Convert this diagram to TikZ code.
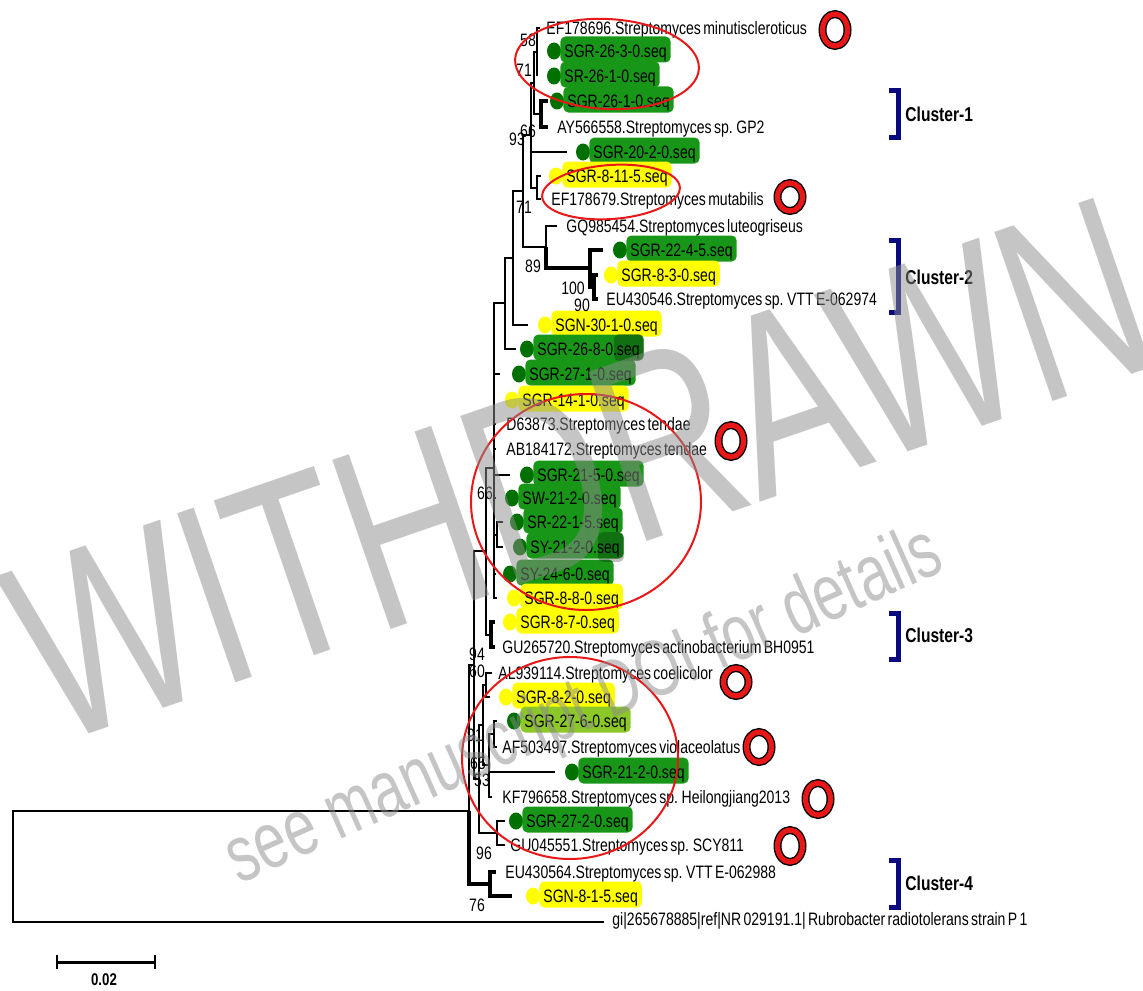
\documentclass[tikz,border=0pt]{standalone}
\usepackage{fontspec}
\setmainfont[FakeStretch=0.78,WordSpace=0.6]{Liberation Sans}
\newfontfamily\wmfont[FakeStretch=0.72]{Liberation Sans}
\usetikzlibrary{positioning,shapes.geometric}
\definecolor{gbox}{RGB}{24,150,24}
\definecolor{gdot}{RGB}{0,112,0}
\definecolor{ybox}{RGB}{255,255,0}
\definecolor{lbox}{RGB}{140,200,40}
\definecolor{cnavy}{RGB}{10,10,128}
\definecolor{cred}{RGB}{232,24,24}
\tikzset{
  br/.style={line width=0.65pt, black},
  thk/.style={line width=2pt, black},
  leaflab/.style={anchor=west, inner sep=0pt, text height=6.5pt, text depth=0pt, font=\fontsize{9}{9}\selectfont},
  seqlab/.style={fill=#1, anchor=west, rounded corners=2.5pt, inner xsep=2pt, inner ysep=0pt,
                 minimum height=13pt, text height=7.9pt, text depth=0pt, font=\fontsize{9}{9}\selectfont},
  sdot/.style={ellipse, fill=#1, inner sep=0pt, minimum width=7pt, minimum height=8.5pt},
  boot/.style={inner sep=0pt, font=\fontsize{9}{9}\selectfont},
  clbr/.style={draw=cnavy, line width=2.5pt},
  cllab/.style={anchor=west, inner sep=0pt, text height=7.2pt, text depth=0pt, font=\bfseries\fontsize{10}{10}\selectfont},
  hilite/.style={draw=cred, line width=1pt},
  ringout/.style={draw=black, line width=4pt},
  ringin/.style={draw=cred, line width=2.6pt},
  wm/.style={text=black!45, text opacity=0.5, inner sep=0pt},
}

\begin{document}
\begin{tikzpicture}[x=0.5pt, y=-0.5pt]
\useasboundingbox (0,0) rectangle (1143,990);

% internal nodes of the tree
\foreach \n/\x/\yy in {nA/537/52, nB/541/114, nC/534/83, nE/537/188, nD/531/135,
  nJ/594/287, nI/590/268, nH/546/247, nF/523/191, nK/513/258, nL/505/303, nM/494/338,
  nN/497/535, nZ/494/468, nP/491/635, nX/486/551, nV/486/685, nU1/494/734, nU/489/765,
  nW/483/725, nS/497/833, nT/479/779, nY/474/665, nR/490/884, nIn/469/811, root/13/866}
  \coordinate (\n) at (\x,\yy);

% reference strains
\foreach \n/\yy/\tip/\tx/\txt in {
  1/28/540/546/EF178696.Streptomyces minutiscleroticus,
  5/127/548/557/AY566558.Streptomyces sp. GP2,
  8/199/541/551/EF178679.Streptomyces mutabilis,
  9/226/557/566/GQ985454.Streptomyces luteogriseus,
  12/299/598/606/EU430546.Streptomyces sp. VTT E-062974,
  17/424/496/506/D63873.Streptomyces tendae,
  18/449/496/506/AB184172.Streptomyces tendae,
  26/647/495/502/GU265720.Streptomyces actinobacterium BH0951,
  27/673/492/498/AL939114.Streptomyces coelicolor,
  30/747/497/502/AF503497.Streptomyces violaceolatus,
  32/797/492/502/KF796658.Streptomyces sp. Heilongjiang2013,
  34/845/505/510/GU045551.Streptomyces sp. SCY811,
  35/872/496/505/EU430564.Streptomyces sp. VTT E-062988} {
  \coordinate (L\n) at (\tip,\yy);
  \node[leaflab] (t\n) at (\tx,\yy) {\txt};
}
\coordinate (L37) at (604,922);
\node[leaflab] (t37) at (612,919) {gi|265678885|ref|NR 029191.1| Rubrobacter radiotolerans strain P 1};

% isolates: dot + highlighted name
\foreach \n/\yy/\tip/\dx/\bc/\dc/\txt in {
  2/51/537/554/gbox/gdot/SGR-26-3-0.seq, 3/76/537/554/gbox/gdot/SR-26-1-0.seq,
  4/101/548/557/gbox/gdot/SGR-26-1-0.seq, 6/152/567/583/gbox/gdot/SGR-20-2-0.seq,
  7/176/541/556/ybox/ybox/SGR-8-11-5.seq, 10/250/603/620/gbox/gdot/SGR-22-4-5.seq,
  11/275/598/611/ybox/ybox/SGR-8-3-0.seq, 13/325/528/545/ybox/ybox/SGN-30-1-0.seq,
  14/349/516/527/gbox/gdot/SGR-26-8-0.seq, 15/374/500/519/gbox/gdot/SGR-27-1-0.seq,
  16/400/494/512/ybox/ybox/SGR-14-1-0.seq, 19/475/510/527/gbox/gdot/SGR-21-5-0.seq,
  20/498/496/512/gbox/gdot/SW-21-2-0.seq, 21/522/503/517/gbox/gdot/SR-22-1-5.seq,
  22/547/503/520/gbox/gdot/SY-21-2-0.seq, 23/574/496/510/gbox/gdot/SY-24-6-0.seq,
  24/598/497/514/ybox/ybox/SGR-8-8-0.seq, 25/622/495/510/ybox/ybox/SGR-8-7-0.seq,
  28/697/490/506/ybox/ybox/SGR-8-2-0.seq, 29/721/497/514/lbox/gdot/SGR-27-6-0.seq,
  31/772/555/572/gbox/gdot/SGR-21-2-0.seq, 33/821/505/516/gbox/gdot/SGR-27-2-0.seq,
  36/896/512/533/ybox/ybox/SGN-8-1-5.seq} {
  \coordinate (L\n) at (\tip,\yy);
  \node[sdot=\dc] (d\n) at (\dx,\yy) {};
  \node[seqlab=\bc] (t\n) at (\dx+6,\yy-1.5) {\txt};
}
\fill[black, opacity=0.25, rounded corners=2.5pt] ([xshift=-15pt]t14.north east) rectangle (t14.south east);
\fill[black, opacity=0.25, rounded corners=2.5pt] ([xshift=-13pt]t22.north east) rectangle ([yshift=-1.5pt]t22.south east);

% branches
\foreach \p/\c in {nA/L1, nA/L2, nA/L3, nC/nA, nC/nB, nE/L7, nE/L8, nD/nC, nD/L6, nD/nE,
  nH/L9, nF/nD, nF/nH, nK/nF, nK/L13, nL/nK, nL/L14, nM/nL, nM/L15,
  nN/L21, nN/L22, nZ/nM, nZ/L16, nZ/L17, nZ/L18, nZ/L19, nZ/L20, nZ/nN, nZ/L23, nZ/L24,
  nX/nZ, nX/nP, nV/L27, nV/L28, nU1/L29, nU1/L30, nU/nU1, nU/L31, nU/L32,
  nW/nV, nW/nU, nS/L33, nS/L34, nT/nW, nT/nS, nY/nX, nY/nT, nIn/nY, root/nIn, root/L37}
  \draw[br] (\p) |- (\c);
\foreach \p/\c in {nB/L4, nB/L5, nJ/L11, nJ/L12, nI/L10, nI/nJ, nH/nI,
  nP/L25, nP/L26, nR/L35, nR/L36, nIn/nR}
  \draw[thk] (\p) |- (\c);

% bootstrap values
\foreach \n/\x/\yy/\v in {b1/528/40/58, b2/524/70/71, b3/528/131/66, b4/517/139/93,
  b5/524/207/71, b6/533/266/89, b7/573/288/100, b8/582/305/90, b9/485/493/66,
  b10/477/654/94, b11/477/671/60, b12/475/735/91, b13/478/763/65, b14/482/780/53,
  b15/484/853/96, b16/477/905/76}
  \node[boot] (\n) at (\x,\yy) {\v};

% red highlight ellipses
\draw[hilite, rotate around={-3:(607,64)}] (607,64) ellipse [x radius=92, y radius=45];
\draw[hilite, rotate around={4:(611,192)}] (611,192) ellipse [x radius=69, y radius=27];
\draw[hilite] (586,502) ellipse [x radius=115, y radius=108];
\draw[hilite] (570,758) ellipse [x radius=108, y radius=101];

% type-strain rings
\foreach \n/\x/\yy/\ry in {1/835/30/16, 2/790/197/14, 3/731/441/16, 4/736/682/14,
  5/759/747/15, 6/818/799/16, 7/790/846/16} {
  \coordinate (ring\n) at (\x,\yy);
  \draw[ringout] (ring\n) ellipse [x radius=12.5, y radius=\ry];
  \draw[ringin] (ring\n) ellipse [x radius=12.5, y radius=\ry];
}

% cluster brackets
\foreach \n/\ya/\yb/\yt in {1/90.5/137.5/114, 2/240.5/312.5/277, 3/613.5/659.5/635, 4/860.5/907.5/883} {
  \draw[clbr] (889,\ya) -- (898.5,\ya) -- (898.5,\yb) -- (889,\yb);
  \node[cllab] (cl\n) at (905,\yt) {Cluster-\n};
}

% scale bar
\coordinate (sbl) at (57,962);
\coordinate (sbr) at (155,962);
\draw[line width=1.5pt] (sbl) -- (sbr);
\draw[line width=1pt] ([yshift=3.5pt]sbl) -- ([yshift=-3.5pt]sbl);
\draw[line width=1pt] ([yshift=3.5pt]sbr) -- ([yshift=-3.5pt]sbr);
\node[inner sep=0pt, font=\bfseries\fontsize{8.5}{8.5}\selectfont] (sblab) at (104,980) {0.02};

% watermark
\node[wm, rotate=19, font=\wmfont\fontsize{130}{130}\selectfont] (wm1) at (580,470) {WITHDRAWN};
\node[wm, rotate=24, font=\wmfont\fontsize{40}{40}\selectfont] (wm2) at (585,708) {see manuscript DOI for details};
\end{tikzpicture}
\end{document}
